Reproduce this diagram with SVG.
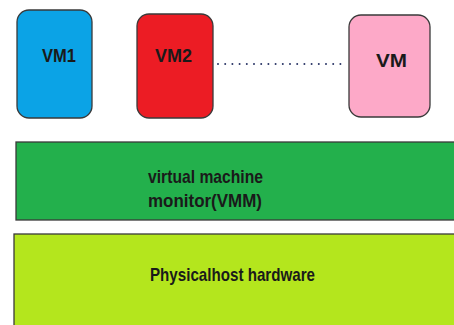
<svg xmlns="http://www.w3.org/2000/svg" width="454" height="325" viewBox="0 0 454 325">
<style>
.box{stroke:#3a3a3a;stroke-width:1.3}
.t{font-family:"Liberation Sans",Arial,sans-serif;font-weight:bold;fill:#1a1a1a;font-size:19px}
</style>
<rect width="454" height="325" fill="#ffffff"/>
<g id="vm1">
<rect class="box" x="17" y="10" width="75" height="108" rx="12" fill="#0BA3E6"/>
<text class="t" x="42" y="62" textLength="34" lengthAdjust="spacingAndGlyphs">VM1</text>
</g>
<g id="vm2">
<rect class="box" x="137" y="14" width="76" height="104" rx="12" fill="#EC1C24"/>
<text class="t" x="155" y="62" textLength="37" lengthAdjust="spacingAndGlyphs">VM2</text>
</g>
<g id="vm">
<rect class="box" x="349" y="15" width="81" height="102" rx="12" fill="#FDA9C8"/>
<text class="t" x="376" y="67" textLength="31" lengthAdjust="spacingAndGlyphs">VM</text>
</g>
<g id="connectors">
<line x1="218" y1="64" x2="341" y2="64" stroke="#2a3566" stroke-width="2" stroke-linecap="round" stroke-dasharray="0 7.2"/>
</g>
<g id="vmm">
<rect class="box" x="16" y="142" width="450" height="78" fill="#23B04C"/>
<text class="t" x="148" y="183" textLength="115" lengthAdjust="spacingAndGlyphs">virtual machine</text>
<text class="t" x="148" y="207" textLength="114" lengthAdjust="spacingAndGlyphs">monitor(VMM)</text>
</g>
<g id="hardware">
<rect class="box" x="14" y="234" width="452" height="100" fill="#B4E61D"/>
<text class="t" x="150" y="281" textLength="165" lengthAdjust="spacingAndGlyphs">Physicalhost hardware</text>
</g>
</svg>
